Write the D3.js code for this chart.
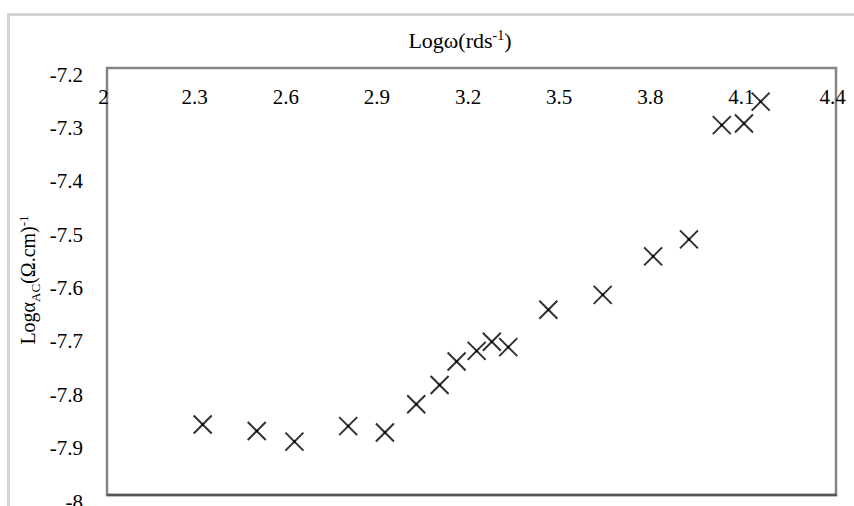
<!DOCTYPE html>
<html>
<head>
<meta charset="utf-8">
<script src="https://cdn.jsdelivr.net/npm/d3@7"></script>
<style>
  html, body { margin: 0; padding: 0; background: #fff; }
  svg { display: block; }
  text { font-family: "Liberation Serif", "Times New Roman", serif; fill: #000; }
</style>
</head>
<body>
<svg id="chart" width="854" height="506"></svg>
<script>
// ---- data ----
const logOmega = [2.315, 2.493, 2.617, 2.794, 2.915, 3.018, 3.095, 3.151, 3.217, 3.267, 3.321, 3.453, 3.632, 3.798, 3.916, 4.024, 4.097, 4.152];
const logSigma = [-7.868, -7.880, -7.900, -7.871, -7.883, -7.830, -7.794, -7.750, -7.730, -7.713, -7.723, -7.653, -7.625, -7.553, -7.521, -7.307, -7.304, -7.263];
const xTicks = [2, 2.3, 2.6, 2.9, 3.2, 3.5, 3.8, 4.1, 4.4];
const yTicks = [-7.2, -7.3, -7.4, -7.5, -7.6, -7.7, -7.8, -7.9, -8];

const svg = d3.select("#chart");
const plot = { left: 107, top: 68, right: 836, bottom: 495 };

const x = d3.scaleLinear().domain([2, 4.4]).range([plot.left, plot.right]);
const y = d3.scaleLinear().domain([-8, -7.2]).range([plot.bottom, plot.top]);

// outer chart frame
svg.append("rect")
  .attr("x", 8.5).attr("y", 14.5).attr("width", 900).attr("height", 600)
  .attr("fill", "#fff").attr("stroke", "#d4d4d4").attr("stroke-width", 3);

// plot area border
svg.append("rect")
  .attr("x", plot.left).attr("y", plot.top)
  .attr("width", plot.right - plot.left).attr("height", plot.bottom - plot.top)
  .attr("fill", "none").attr("stroke", "#858585").attr("stroke-width", 2.5);
svg.append("line")
  .attr("x1", plot.left).attr("x2", plot.right + 1)
  .attr("y1", plot.bottom).attr("y2", plot.bottom)
  .attr("stroke", "#555").attr("stroke-width", 2.5);

// x axis labels (inside top of plot)
const fmt = d => String(d);
const xAxis = d3.axisTop(x).tickValues(xTicks).tickFormat(fmt).tickSize(0).tickPadding(0);
const gx = svg.append("g").attr("transform", `translate(-4, 104)`).call(xAxis);
gx.select(".domain").remove();
gx.selectAll("text")
  .attr("y", 0).attr("dy", 0)
  .style("font-family", '"Liberation Serif", serif')
  .style("font-size", "21px").attr("fill", "#000");

// y axis labels
const yAxis = d3.axisLeft(y).tickValues(yTicks).tickFormat(fmt).tickSize(0).tickPadding(0);
const gy = svg.append("g").attr("transform", `translate(83, 13)`).call(yAxis);
gy.select(".domain").remove();
gy.selectAll("text")
  .attr("x", 0).attr("dy", 0)
  .style("font-family", '"Liberation Serif", serif')
  .style("font-size", "21px").attr("fill", "#000");

// x title
const xt = svg.append("text").attr("x", 460).attr("y", 48)
  .attr("text-anchor", "middle").style("font-size", "22px");
xt.append("tspan").text("Logω(rds");
xt.append("tspan").attr("dy", -8).style("font-size", "14px").text("-1");
xt.append("tspan").attr("dy", 8).text(")");

// y title
const yt = svg.append("text")
  .attr("transform", `translate(35, 280) rotate(-90)`)
  .attr("text-anchor", "middle").style("font-size", "20px");
yt.append("tspan").text("Logα");
yt.append("tspan").attr("dy", 5).style("font-size", "13px").text("AC");
yt.append("tspan").attr("dy", -5).text("(Ω.cm)");
yt.append("tspan").attr("dy", -7).style("font-size", "13px").text("-1");

// blur filter for soft markers
const defs = svg.append("defs");
defs.append("filter").attr("id", "soft")
  .append("feGaussianBlur").attr("stdDeviation", 0.55);

// markers
const pts = logOmega.map((v, i) => ({ x: v, y: logSigma[i] }));
const s = 9;
const mk = svg.append("g").attr("filter", "url(#soft)");
const g = mk.selectAll("g.pt").data(pts).enter().append("g")
  .attr("class", "pt")
  .attr("transform", d => `translate(${x(d.x)},${y(d.y)})`);
g.append("path")
  .attr("d", `M${-s},${-s}L${s},${s}M${-s},${s}L${s},${-s}`)
  .attr("stroke", "#303030").attr("stroke-width", 2).attr("fill", "none");
g.append("circle").attr("r", 1.3).attr("fill", "#000");
</script>
</body>
</html>
